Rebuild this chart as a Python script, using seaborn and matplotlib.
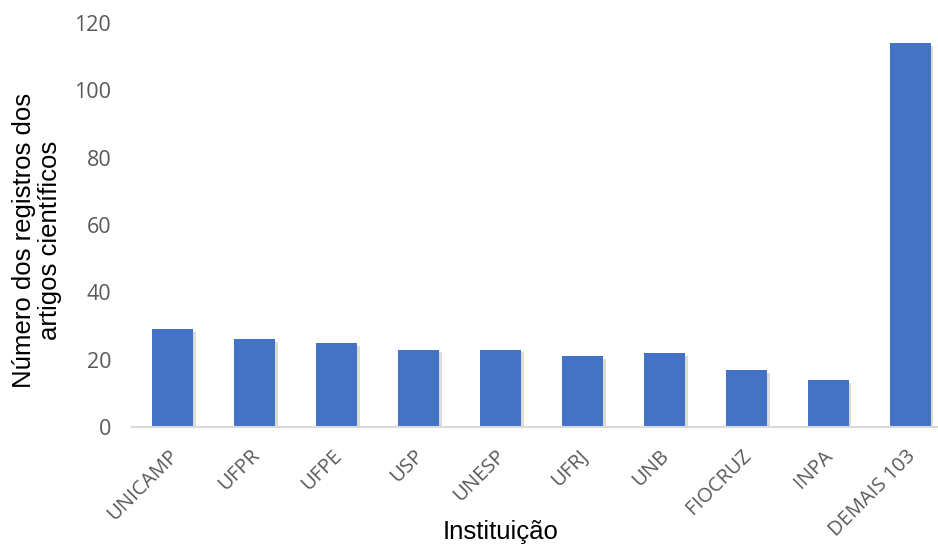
import matplotlib
matplotlib.use("Agg")
import matplotlib.pyplot as plt
import matplotlib.patheffects as pe
import matplotlib.transforms as mtransforms
import pandas as pd
import seaborn as sns

# data
instituicoes = ["UNICAMP", "UFPR", "UFPE", "USP", "UNESP", "UFRJ", "UNB",
                "FIOCRUZ", "INPA", "DEMAIS 103"]
registros = [29, 26, 25, 23, 23, 21, 22, 17, 14, 114]
y_ticks = [0, 20, 40, 60, 80, 100, 120]

df = pd.DataFrame({"inst": instituicoes, "n": registros})

sns.set_style("white")
plt.rcParams["font.family"] = ["Liberation Sans", "DejaVu Sans"]

fig = plt.figure(figsize=(9.38, 5.46), dpi=100)
ax = fig.add_axes([132 / 938, 119 / 546, (938 - 132) / 938, (427 - 23) / 546])

sns.barplot(data=df, x="inst", y="n", color="#4472C4", width=0.5,
            saturation=1, linewidth=0, edgecolor="none", ax=ax)
for p in ax.patches:
    p.set_path_effects([pe.SimplePatchShadow(offset=(2, -2), shadow_rgbFace="#999999", alpha=0.35),
                        pe.Normal()])

ax.set_ylim(0, 120)
ax.set_xlim(-0.5, 9.34)
ax.set_yticks(y_ticks)
ax.set_yticklabels([str(t) for t in y_ticks], family="Open Sans", color="#595959", fontsize=15.5)
ax.set_xticks(range(len(instituicoes)))
ax.set_xticklabels(instituicoes, rotation=45, ha="right", rotation_mode="anchor",
                   family="Open Sans", color="#595959", fontsize=14.5)
ax.tick_params(axis="y", length=0, pad=15)
ax.tick_params(axis="x", length=0, pad=12)
shift = mtransforms.ScaledTranslation(-5 / 100, -2 / 100, fig.dpi_scale_trans)
for lab in ax.get_xticklabels():
    lab.set_transform(lab.get_transform() + shift)

for s in ["top", "right", "left"]:
    ax.spines[s].set_visible(False)
ax.spines["bottom"].set_color("#D9D9D9")
ax.spines["bottom"].set_linewidth(1.5)

ax.set_xlabel("Instituição", fontsize=18.5, color="black")
ax.set_ylabel("Número dos registros dos\nartigos científicos", fontsize=18.5,
              color="black", linespacing=1.1)
ax.xaxis.set_label_coords((501 - 132) / 806, (427 - 532) / 404)
ax.yaxis.set_label_coords((37 - 132) / 806, (427 - 240) / 404)
ax.xaxis.label.set_va("center")
ax.yaxis.label.set_va("center")

fig.savefig("out.png", dpi=100)
